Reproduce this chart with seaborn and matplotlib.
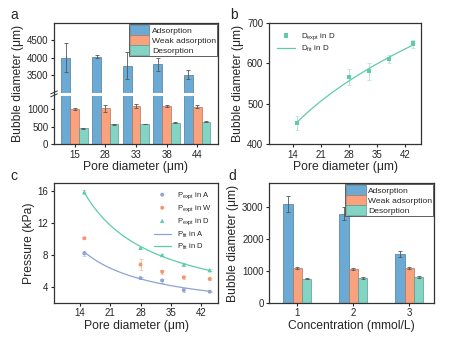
import numpy as np
import pandas as pd
import matplotlib
matplotlib.use("Agg")
import matplotlib.pyplot as plt
import matplotlib.colors as mcolors
import seaborn as sns

# ---------------- data ----------------
pores = ["15", "28", "33", "38", "44"]
ads_a = [4000, 4030, 3770, 3800, 3500]
ads_a_err = [430, 50, 400, 200, 130]
weak_a = [1010, 1030, 1100, 1090, 1080]
weak_a_err = [20, 100, 50, 30, 40]
des_a = [450, 570, 580, 610, 650]
des_a_err = [20, 20, 10, 15, 5]

pore_num = [15, 28, 33, 38, 44]
d_expt = [452, 566, 580, 611, 649]
d_expt_err = [18, 20, 22, 10, 10]

p_a = [8.2, 5.1, 4.8, 3.6, 3.4]
p_a_err = [0.3, 0.15, 0.25, 0.2, 0.1]
p_w = [10.1, 6.8, 5.9, 5.2, 5.0]
p_w_err = [0.15, 0.7, 0.25, 0.15, 0.15]
p_d = [15.9, 8.9, 8.0, 6.8, 6.1]
p_d_err = [0.2, 0.15, 0.15, 0.2, 0.15]

conc = ["1", "2", "3"]
ads_d = [3100, 2800, 1530]
ads_d_err = [250, 200, 100]
weak_d = [1080, 1060, 1090]
weak_d_err = [30, 30, 30]
des_d = [750, 780, 810]
des_d_err = [15, 20, 25]

states = ["Adsorption", "Weak adsorption", "Desorption"]
bar_colors = ["#6aaad4", "#f9a27d", "#82d5c4"]
c_a = "#8ea2d6"
c_w = "#f4956b"
c_d = "#5fcbab"

# ---------------- style ----------------
sns.set_style("ticks")
plt.rcParams["font.family"] = ["Liberation Sans", "DejaVu Sans"]
plt.rcParams["axes.edgecolor"] = "#333333"
plt.rcParams["axes.linewidth"] = 0.9
plt.rcParams["xtick.major.size"] = 2.5
plt.rcParams["ytick.major.size"] = 2.5
plt.rcParams["xtick.major.width"] = 0.8
plt.rcParams["ytick.major.width"] = 0.8
plt.rcParams["xtick.labelsize"] = 7
plt.rcParams["ytick.labelsize"] = 7
plt.rcParams["mathtext.default"] = "regular"

fig = plt.figure(figsize=(4.54, 3.38), dpi=100)
ax_a = fig.add_axes([0.119, 0.574, 0.361, 0.358])
ax_b = fig.add_axes([0.592, 0.574, 0.336, 0.358])
ax_c = fig.add_axes([0.119, 0.104, 0.362, 0.354])
ax_d = fig.add_axes([0.593, 0.104, 0.364, 0.354])

label_fs = 8.7


def darker(c, f=0.72):
    r, g, b = mcolors.to_rgb(c)
    return (r * f, g * f, b * f)


def style_bars(ax):
    for cont, col in zip(ax.containers, bar_colors):
        for p in cont:
            p.set_edgecolor(darker(col))
            p.set_linewidth(0.5)


def add_errs(ax, vals_list, errs_list):
    for cont, vals, errs in zip(ax.containers, vals_list, errs_list):
        xs = [p.get_x() + p.get_width() / 2 for p in cont]
        ax.errorbar(xs, vals, yerr=errs, fmt="none", ecolor="#555555",
                    elinewidth=0.6, capsize=1.3, capthick=0.6, zorder=3)


def bar_legend(ax, fs):
    h, l = ax.get_legend_handles_labels()
    leg = ax.legend(h, l, loc="upper right", fontsize=fs, frameon=True,
                    fancybox=False, edgecolor="#444444", framealpha=1,
                    handlelength=2.3, handleheight=1.45, labelspacing=0.0,
                    borderpad=0.1, handletextpad=0.3, borderaxespad=0.15)
    leg.get_frame().set_linewidth(0.6)
    for p, col in zip(leg.get_patches(), bar_colors):
        p.set_edgecolor(darker(col))
        p.set_linewidth(0.5)


# ---------------- panel a (broken axis) ----------------
lo, hi = 1450, 2950


def fwd(y):
    y = np.asarray(y, dtype=float)
    return np.where(y <= lo, y, np.where(y >= hi, y - (hi - lo), lo))


def inv(t):
    t = np.asarray(t, dtype=float)
    return np.where(t <= lo, t, t + (hi - lo))


df_a = pd.DataFrame({
    "pore": pores * 3,
    "val": ads_a + weak_a + des_a,
    "state": [s for s in states for _ in pores],
})
sns.barplot(data=df_a, x="pore", y="val", hue="state", palette=bar_colors,
            saturation=1, width=0.86, errorbar=None, ax=ax_a)
style_bars(ax_a)
ax_a.set_yscale("function", functions=(fwd, inv))
ax_a.set_ylim(0, 5000)
ax_a.set_yticks([0, 500, 1000, 3500, 4000, 4500])
ax_a.set_yticklabels(["0", "500", "1000", "3500", "4000", "4500"])
add_errs(ax_a, [ads_a, weak_a, des_a], [ads_a_err, weak_a_err, des_a_err])
ax_a.axhline(lo, color="white", lw=2.2, zorder=2.2)
yb = lo / (5000 - (hi - lo))
for dy in (-0.012, 0.012):
    ax_a.plot([-0.02, 0.02], [yb + dy - 0.012, yb + dy + 0.012],
              transform=ax_a.transAxes, color="#333333", lw=0.7,
              clip_on=False, zorder=5)
ax_a.set_xlabel("Pore diameter (μm)", fontsize=label_fs, labelpad=1)
ax_a.set_ylabel("Bubble diameter (μm)", fontsize=label_fs, labelpad=2)
bar_legend(ax_a, 6.1)

# ---------------- panel b ----------------
coef_b = np.polyfit(np.log(pore_num), np.log(d_expt), 1)
xf = np.linspace(min(pore_num), max(pore_num), 100)
fit_b = pd.DataFrame({"x": xf, "y": np.exp(np.polyval(coef_b, np.log(xf)))})
ax_b.errorbar(pore_num, d_expt, yerr=d_expt_err, fmt="none", ecolor="#b8e6da",
              elinewidth=0.7, capsize=1.3, capthick=0.6, zorder=2)
sns.scatterplot(x=pore_num, y=d_expt, marker="s", s=9, color=c_d,
                edgecolor="none", label=r"$D_{expt}$ in D", ax=ax_b, zorder=3)
sns.lineplot(data=fit_b, x="x", y="y", color=c_d, lw=0.9,
             label=r"$D_{fit}$ in D", ax=ax_b)
ax_b.set_xlim(8, 46)
ax_b.set_xticks([14, 21, 28, 35, 42])
ax_b.set_ylim(400, 700)
ax_b.set_yticks([400, 500, 600, 700])
ax_b.set_xlabel("Pore diameter (μm)", fontsize=label_fs, labelpad=1)
ax_b.set_ylabel("Bubble diameter (μm)", fontsize=label_fs, labelpad=2)
ax_b.legend(loc="upper left", fontsize=5.8, frameon=False, handlelength=2.2,
            labelspacing=0.3, borderaxespad=0.6)

# ---------------- panel c ----------------
xf_c = np.linspace(min(pore_num), max(pore_num), 100)
coef_ca = np.polyfit(np.log(pore_num), np.log(p_a), 1)
coef_cd = np.polyfit(np.log(pore_num), np.log(p_d), 1)
fit_ca = pd.DataFrame({"x": xf_c, "y": np.exp(np.polyval(coef_ca, np.log(xf_c)))})
fit_cd = pd.DataFrame({"x": xf_c, "y": np.exp(np.polyval(coef_cd, np.log(xf_c)))})
for vals, errs, col in ((p_a, p_a_err, c_a), (p_w, p_w_err, c_w), (p_d, p_d_err, c_d)):
    ax_c.errorbar(pore_num, vals, yerr=errs, fmt="none", ecolor=col, alpha=0.6,
                  elinewidth=0.6, capsize=1.2, capthick=0.5, zorder=2)
sns.scatterplot(x=pore_num, y=p_a, marker="o", s=8, color=c_a, edgecolor="none",
                label=r"$P_{expt}$ in A", ax=ax_c, zorder=3)
sns.scatterplot(x=pore_num, y=p_w, marker="o", s=8, color=c_w, edgecolor="none",
                label=r"$P_{expt}$ in W", ax=ax_c, zorder=3)
sns.scatterplot(x=pore_num, y=p_d, marker="^", s=10, color=c_d, edgecolor="none",
                label=r"$P_{expt}$ in D", ax=ax_c, zorder=3)
sns.lineplot(data=fit_ca, x="x", y="y", color=c_a, lw=0.9,
             label=r"$P_{fit}$ in A", ax=ax_c)
sns.lineplot(data=fit_cd, x="x", y="y", color=c_d, lw=0.9,
             label=r"$P_{fit}$ in D", ax=ax_c)
ax_c.set_xlim(8, 46)
ax_c.set_xticks([14, 21, 28, 35, 42])
ax_c.set_ylim(2, 17)
ax_c.set_yticks([4, 8, 12, 16])
ax_c.set_xlabel("Pore diameter (μm)", fontsize=label_fs, labelpad=1)
ax_c.set_ylabel("Pressure (kPa)", fontsize=label_fs, labelpad=2)
ax_c.legend(loc="upper right", fontsize=5.5, frameon=False, handlelength=2.2,
            labelspacing=0.3, borderaxespad=0.5)

# ---------------- panel d ----------------
df_d = pd.DataFrame({
    "conc": conc * 3,
    "val": ads_d + weak_d + des_d,
    "state": [s for s in states for _ in conc],
})
sns.barplot(data=df_d, x="conc", y="val", hue="state", palette=bar_colors,
            saturation=1, width=0.5, errorbar=None, ax=ax_d)
style_bars(ax_d)
add_errs(ax_d, [ads_d, weak_d, des_d], [ads_d_err, weak_d_err, des_d_err])
ax_d.set_xlim(-0.5, 2.45)
ax_d.set_ylim(0, 3750)
ax_d.set_yticks([0, 1000, 2000, 3000])
ax_d.set_xlabel("Concentration (mmol/L)", fontsize=label_fs, labelpad=1)
ax_d.set_ylabel("Bubble diameter (μm)", fontsize=label_fs, labelpad=2)
bar_legend(ax_d, 6.1)

for ax in (ax_a, ax_b, ax_c, ax_d):
    for s in ax.spines.values():
        s.set_visible(True)
        s.set_linewidth(0.9)
    ax.tick_params(pad=1.5)

# panel letters
fig.text(0.022, 0.955, "a", fontsize=10, va="center")
fig.text(0.508, 0.955, "b", fontsize=10, va="center")
fig.text(0.022, 0.478, "c", fontsize=10, va="center")
fig.text(0.503, 0.478, "d", fontsize=10, va="center")

fig.savefig("out.png", dpi=100)
